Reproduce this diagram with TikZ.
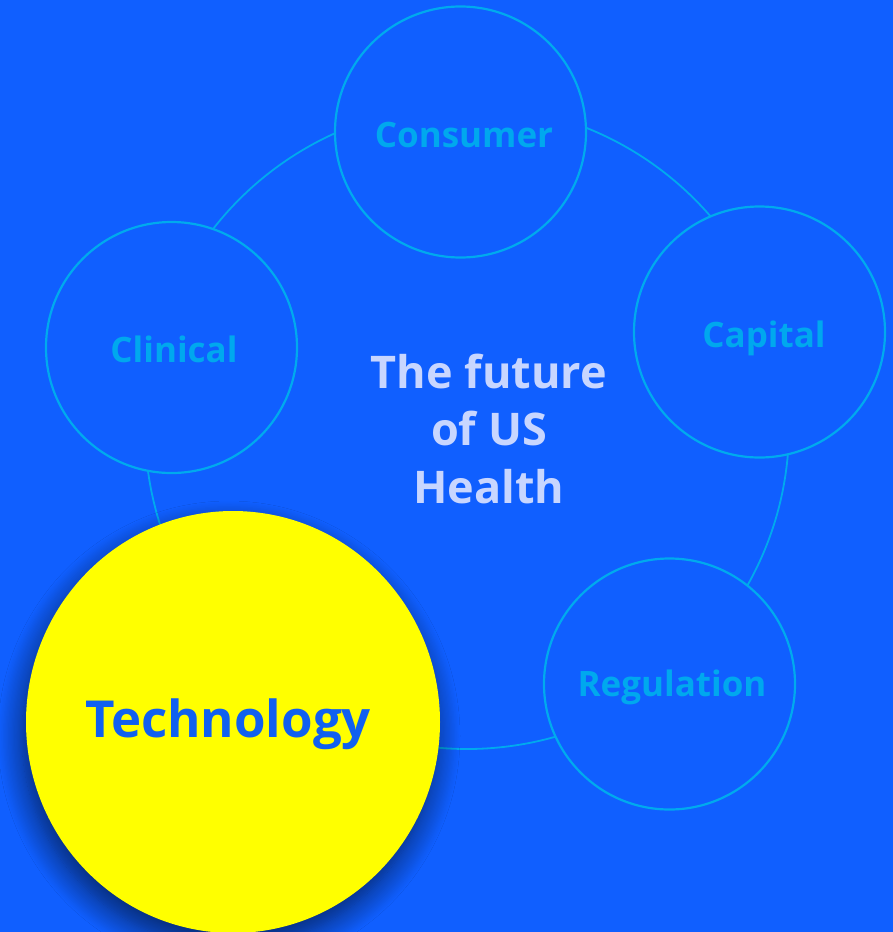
\documentclass[tikz,border=0pt]{standalone}
\usepackage{fontspec}
\setmainfont{Open Sans}
\usetikzlibrary{shadows.blur,shapes.geometric}
\definecolor{bg}{HTML}{105FFF}
\definecolor{ringc}{HTML}{00AAEE}
\definecolor{lab}{HTML}{00A8EE}
\definecolor{ctext}{HTML}{C8D6FF}
\definecolor{techtext}{HTML}{1060F0}
\definecolor{yel}{HTML}{FFFF00}
\tikzset{
  topic/.style={circle, draw=ringc, line width=2.2pt, fill=bg, minimum size=251pt, inner sep=0pt},
  toplabel/.style={anchor=base, text=lab, font=\bfseries\fontsize{35}{38}\selectfont, inner sep=0pt},
  hub/.style={ellipse, fill=yel, minimum width=414pt, minimum height=422pt, inner sep=0pt,
    blur shadow={shadow xshift=-4pt, shadow yshift=-14pt, shadow blur radius=24pt, shadow opacity=60, shadow blur steps=20}},
  ring/.style={draw=ringc, line width=1.8pt}
}
\begin{document}
\begin{tikzpicture}[x=1pt,y=-1pt]
\fill[bg] (0,0) rectangle (893,932);
\useasboundingbox (0,0) rectangle (893,932);
\coordinate (rc) at (467,427);
\draw[ring] (rc) circle[radius=322pt];
\node[topic] (consumer) at (460.5,132) {};
\node[topic] (capital) at (759.5,332) {};
\node[topic] (regulation) at (669.5,684) {};
\node[topic] (clinical) at (171.5,347.5) {};
\begin{scope}
\clip (0,0) rectangle (893,932);
\node[hub] (tech) at (233,722) {};
\end{scope}
\node[toplabel] (lconsumer) at (464,147) {Consumer};
\node[toplabel] (lcapital) at (764,347) {Capital};
\node[toplabel] (lregulation) at (672,696) {Regulation};
\node[toplabel] (lclinical) at (174,362) {Clinical};
\node[anchor=base, text=techtext, font=\bfseries\fontsize{51}{55}\selectfont, inner sep=0pt] (ltech) at (228,737) {Technology};
\node[anchor=base, text=ctext, font=\bfseries\fontsize{45}{57.5}\selectfont, inner sep=0pt, align=center] (center) at (489,503) {The future\\of US\\Health};
\end{tikzpicture}
\end{document}
